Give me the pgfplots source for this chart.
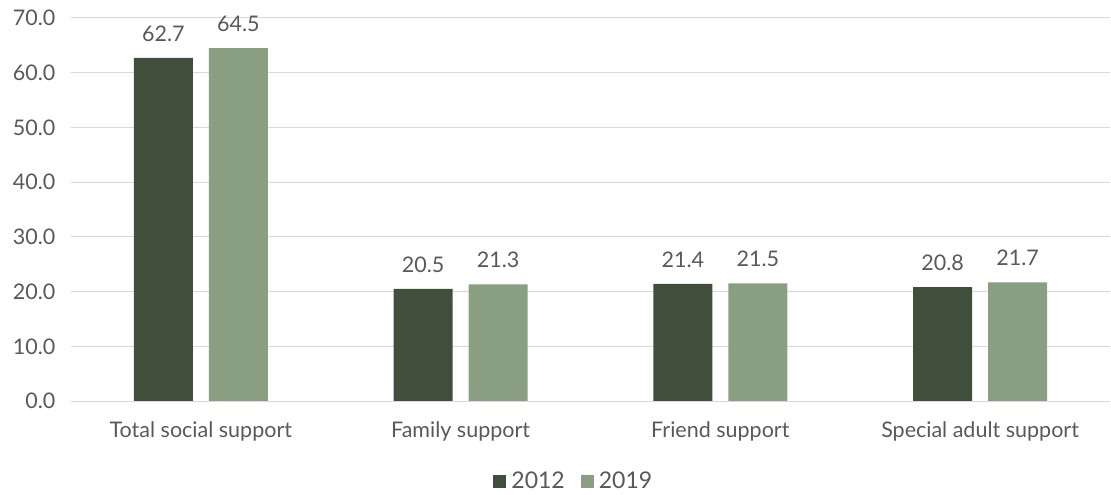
\documentclass[border=0pt]{standalone}
\usepackage{pgfplots}
\pgfplotsset{compat=1.18}
\usepackage{fontspec}
\setmainfont{Lato}
\definecolor{dk}{HTML}{3F4F3B}
\definecolor{lt}{HTML}{8A9E82}
\definecolor{txt}{HTML}{595959}
\definecolor{gridc}{HTML}{D9D9D9}
\begin{document}
\begin{tikzpicture}
\begin{axis}[
  scale only axis, width=1039pt, height=383pt,
  xmin=-0.5, xmax=3.5, ymin=0, ymax=70,
  ybar, bar width=59pt,
  xtick=data,
  xticklabels={Total social support, Family support, Friend support, Special adult support},
  ytick={0,10,...,70},
  xmajorgrids=false, ymajorgrids=true,
  major grid style={draw=gridc, line width=1pt},
  axis line style={draw=none},
  major tick length=0pt,
  tick label style={font=\fontsize{21.5}{24}\selectfont, text=txt},
  /pgf/number format/assume math mode=true,
  yticklabel style={/pgf/number format/fixed, /pgf/number format/fixed zerofill, /pgf/number format/precision=1, xshift=-12pt},
  xticklabel style={yshift=-17pt},
  clip=false,
  nodes near coords,
  nodes near coords style={font=\fontsize{21.5}{24}\selectfont, text=txt, yshift=13pt, /pgf/number format/fixed, /pgf/number format/fixed zerofill, /pgf/number format/precision=1},
  legend style={at={(0.484,-0.209)}, anchor=center, draw=none, font=\fontsize{23}{26}\selectfont, text=txt, legend columns=2},
  legend image code/.code={\fill[#1] (0pt,-6.5pt) rectangle (13pt,6.5pt); \path (16pt,0pt);},
]
\addplot[fill=dk, draw=none, bar shift=-37.5pt] coordinates {(0,62.7) (1,20.5) (2,21.4) (3,20.8)};
\addlegendentry{2012\hspace{14pt}\mbox{}}
\addplot[fill=lt, draw=none, bar shift=37.5pt] coordinates {(0,64.5) (1,21.3) (2,21.5) (3,21.7)};
\addlegendentry{2019}
\draw[draw=gridc, line width=1pt] (rel axis cs:0,0) -- (rel axis cs:1,0);
\path (rel axis cs:-0.0683,-0.235) rectangle (rel axis cs:1.001,1.047);
\end{axis}
\end{tikzpicture}
\end{document}
